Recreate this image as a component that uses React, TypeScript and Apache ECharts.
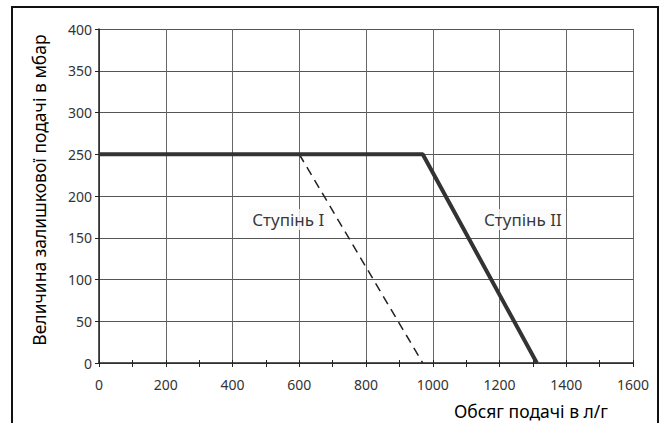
import React, { useEffect, useRef } from "react";
import * as echarts from "echarts";

const stage2Line: [number, number][] = [[0, 250], [970, 250], [1312, 0]];
const stage1Line: [number, number][] = [[600, 250], [970, 0]];
const stageLabels: [number, number, string][] = [[567, 172, "Ступінь I"], [1270, 172, "Ступінь II"]];
const xTitle = "Обсяг подачі в л/г";
const yTitle = "Величина залишкової подачі в мбар";

const FONT = "Noto Sans";

export default function App() {
  const ref = useRef<HTMLDivElement>(null);
  useEffect(() => {
    if (!ref.current) return;
    const chart = echarts.init(ref.current, null, { renderer: "svg" });
    chart.setOption({
      animation: false,
      backgroundColor: "#fff",
      textStyle: { fontFamily: FONT },
      grid: { left: 99, top: 29, right: 28, bottom: 60, containLabel: false },
      graphic: [
        {
          type: "rect",
          shape: { x: 12, y: 7, width: 646, height: 440 },
          style: { fill: "none", stroke: "#111", lineWidth: 2 },
          silent: true,
          z: 100,
        },
      ],
      xAxis: [
        {
          type: "value",
          min: 0,
          max: 1600,
          interval: 200,
          name: xTitle,
          nameLocation: "end",
          nameGap: 0,
          nameTextStyle: {
            fontFamily: FONT,
            fontSize: 17.5,
            color: "#000",
            align: "right",
            verticalAlign: "top",
            padding: [39, 25, 0, 0],
          },
          axisLine: { show: true, lineStyle: { color: "#222", width: 1.5 } },
          axisTick: { show: true, length: 4, lineStyle: { color: "#222" } },
          minorTick: { show: true, splitNumber: 2, length: 4, lineStyle: { color: "#222" } },
          axisLabel: {
            margin: 14,
            fontSize: 14,
            color: "#333",
            fontFamily: FONT,
            formatter: (v: number) => String(v),
          },
          splitLine: { show: true, lineStyle: { color: "#666", width: 1 } },
        },
        {
          type: "value",
          position: "bottom",
          min: 0,
          max: 1600,
          interval: 200,
          axisLine: { show: false },
          axisTick: { show: true, inside: true, length: 3, lineStyle: { color: "#222" } },
          minorTick: { show: true, splitNumber: 2, length: 3, lineStyle: { color: "#222" } },
          axisLabel: { show: false },
          splitLine: { show: false },
        },
      ],
      yAxis: {
        type: "value",
        min: 0,
        max: 400,
        interval: 50,
        name: yTitle,
        nameLocation: "middle",
        nameGap: 51,
        nameTextStyle: { fontFamily: FONT, fontSize: 17.5, color: "#000", padding: [0, 0, 0, 12] },
        axisLine: { show: true, lineStyle: { color: "#222", width: 1.5 } },
        axisTick: { show: true, length: 4, lineStyle: { color: "#222" } },
        axisLabel: {
          margin: 7,
          fontSize: 14,
          color: "#333",
          fontFamily: FONT,
          formatter: (v: number) => String(v),
        },
        splitLine: { show: true, lineStyle: { color: "#555", width: 1 } },
      },
      series: [
        {
          type: "line",
          data: stage2Line,
          symbol: "none",
          lineStyle: { color: "#333", width: 4 },
          z: 5,
        },
        {
          type: "line",
          data: stage1Line,
          symbol: "none",
          lineStyle: { color: "#222", width: 1.5, type: [9, 6] },
          z: 4,
        },
        {
          type: "scatter",
          data: stageLabels,
          symbolSize: 0,
          z: 10,
          label: {
            show: true,
            position: "inside",
            formatter: (p: any) => p.data[2],
            fontFamily: FONT,
            fontSize: 17,
            color: "#000",
            backgroundColor: "#fafafa",
            padding: [2, 4],
          },
        },
      ],
    });
    return () => chart.dispose();
  }, []);
  return (
    <div
      ref={ref}
      style={{ position: "fixed", left: 0, top: 0, width: 661, height: 423 }}
    />
  );
}
